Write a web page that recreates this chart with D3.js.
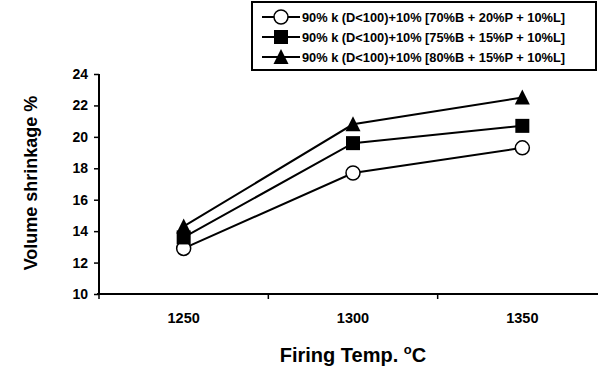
<!DOCTYPE html>
<html><head><meta charset="utf-8">
<script src="https://cdn.jsdelivr.net/npm/d3@7"></script>
<style>
html,body{margin:0;padding:0;background:#fff;}
svg{display:block;font-family:"Liberation Sans",Arial,sans-serif;font-weight:bold;}
</style></head>
<body>
<svg id="c" width="598" height="372"></svg>
<script>
const categories = ["1250", "1300", "1350"];
const seriesNames = [
  "90% k (D<100)+10% [70%B + 20%P + 10%L]",
  "90% k (D<100)+10% [75%B + 15%P + 10%L]",
  "90% k (D<100)+10% [80%B + 15%P + 10%L]"
];
const seriesA = [12.9, 17.7, 19.3];
const seriesB = [13.6, 19.6, 20.7];
const seriesC = [14.3, 20.8, 22.5];
const yTicks = [10, 12, 14, 16, 18, 20, 22, 24];
const markers = ["circle", "square", "triangle"];

const svg = d3.select("#c");
const x = d3.scaleBand().domain(categories).range([99, 607]);
const y = d3.scaleLinear().domain([10, 24]).range([294, 74]);

// y axis
const yAxis = d3.axisLeft(y).tickValues(yTicks).tickSize(5).tickPadding(6).tickFormat(d3.format("d"));
const gy = svg.append("g").attr("transform", "translate(99,0)").call(yAxis);
gy.select(".domain").attr("stroke", "#000").attr("stroke-width", 2).attr("d", `M0,${y(24)}V${y(10)}`);
gy.selectAll(".tick line").attr("stroke", "#000").attr("stroke-width", 1.5);
gy.selectAll(".tick text").attr("font-size", 14).attr("font-weight", "bold").attr("font-family", "Liberation Sans, Arial, sans-serif").attr("fill", "#000");

// x axis
const gx = svg.append("g").attr("transform", "translate(0,294)");
gx.append("line").attr("x1", 97).attr("x2", 607).attr("y1", 0).attr("y2", 0).attr("stroke", "#000").attr("stroke-width", 2);
const boundaries = categories.map(c => x(c)).concat([x.range()[1]]);
gx.selectAll("line.tk").data(boundaries).enter().append("line").attr("class", "tk")
  .attr("x1", d => d).attr("x2", d => d).attr("y1", 0).attr("y2", 5).attr("stroke", "#000").attr("stroke-width", 1.5);
gx.selectAll("text").data(categories).enter().append("text")
  .attr("x", d => x(d) + x.bandwidth() / 2).attr("y", 28.5).attr("text-anchor", "middle")
  .attr("font-size", 14.5).text(d => d);

// titles
svg.append("text").attr("transform", "translate(37,183) rotate(-90)").attr("text-anchor", "middle")
  .attr("font-size", 18).text("Volume shrinkage %");
const xt = svg.append("text").attr("x", 353).attr("y", 362).attr("text-anchor", "middle").attr("font-size", 20);
xt.append("tspan").text("Firing Temp. ");
xt.append("tspan").attr("font-size", 13).attr("dy", -8).text("o");
xt.append("tspan").attr("dy", 8).text("C");

// lines
const data = [seriesA, seriesB, seriesC];
const line = d3.line().x((d, i) => x(categories[i]) + x.bandwidth() / 2).y(d => y(d));
function drawMarker(g, type, cx, cy) {
  if (type === "circle") {
    g.append("circle").attr("cx", cx).attr("cy", cy).attr("r", 7).attr("fill", "#fff").attr("stroke", "#000").attr("stroke-width", 1.5);
  } else if (type === "square") {
    g.append("rect").attr("x", cx - 7).attr("y", cy - 7).attr("width", 14).attr("height", 14).attr("fill", "#000");
  } else {
    g.append("path").attr("d", "M0,-8L7.5,7L-7.5,7Z").attr("transform", `translate(${cx},${cy})`).attr("fill", "#000");
  }
}
data.forEach((s, k) => {
  svg.append("path").datum(s).attr("d", line).attr("fill", "none").attr("stroke", "#000").attr("stroke-width", 2);
});
data.forEach((s, k) => {
  const g = svg.append("g");
  s.forEach((v, i) => drawMarker(g, markers[k], x(categories[i]) + x.bandwidth() / 2, y(v)));
});

// legend
const lg = svg.append("g");
lg.append("rect").attr("x", 252).attr("y", 2).attr("width", 344).attr("height", 68).attr("fill", "#fff").attr("stroke", "#000").attr("stroke-width", 2);
seriesNames.forEach((n, k) => {
  const cy = 17 + k * 20;
  lg.append("line").attr("x1", 262).attr("x2", 300).attr("y1", cy).attr("y2", cy).attr("stroke", "#000").attr("stroke-width", 2);
  drawMarker(lg, markers[k], 281, cy);
  lg.append("text").attr("x", 302).attr("y", cy + 4.5).attr("font-size", 12.8).text(n);
});
</script>
</body></html>
